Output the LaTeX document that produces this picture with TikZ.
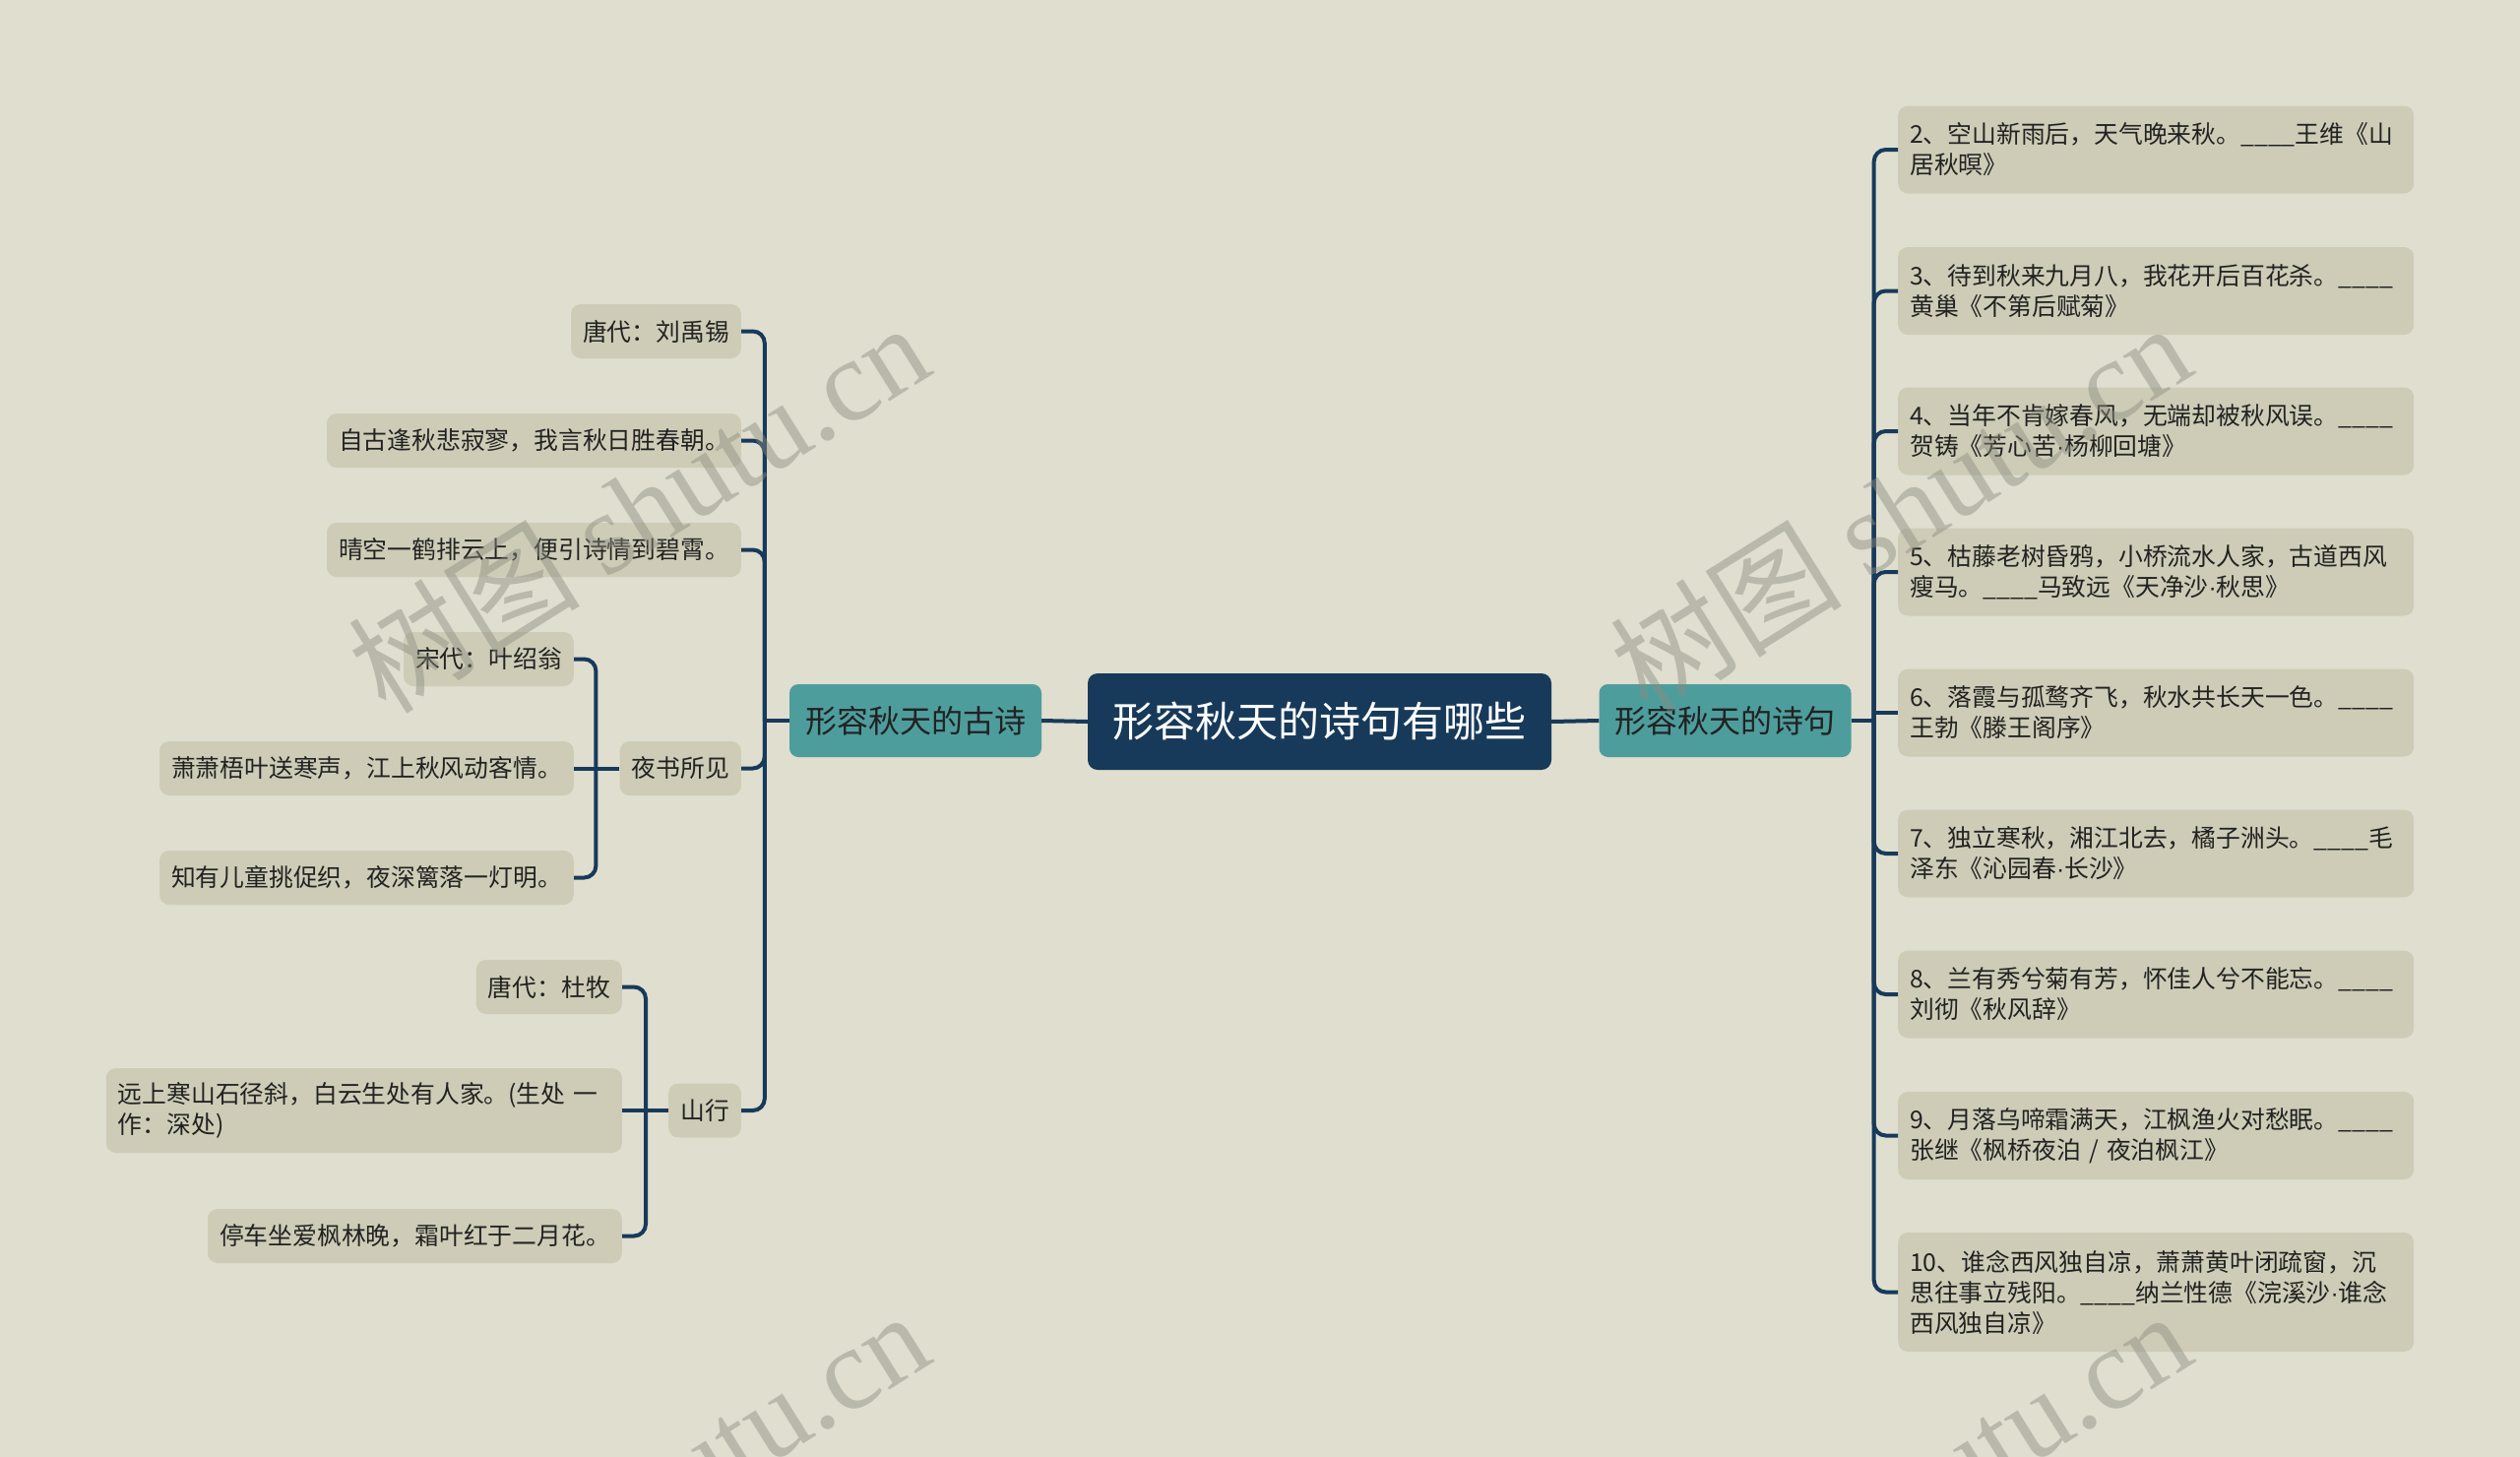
\documentclass[tikz,border=0pt]{standalone}
\usepackage{fontspec}
\setmainfont{Noto Sans CJK SC}
\newfontfamily\wmlatin{Liberation Serif}
\newfontfamily\latinsans{Liberation Sans}
\newcommand{\mdot}{{\latinsans ·}}

\definecolor{bg}{HTML}{DFDECF}
\definecolor{leaffill}{HTML}{CECCB6}
\definecolor{navy}{HTML}{173A5A}
\definecolor{tealbox}{HTML}{4E9D9D}
\definecolor{ink}{HTML}{222222}
\definecolor{wm}{RGB}{140,140,128}

\tikzset{
  leafbox/.style={fill=leaffill, rounded corners=10pt, text=ink,
    font=\fontsize{24.8}{31}\selectfont, inner xsep=12pt, inner ysep=0pt,
    minimum height=55pt},
  rleaf/.style={leafbox, anchor=west, text width=500pt, align=left, minimum height=89pt},
  lleaf/.style={leafbox, anchor=east},
  rootbox/.style={fill=navy, rounded corners=10pt, text=white,
    font=\fontsize{42}{50}\selectfont, minimum width=471pt, minimum height=98pt, inner sep=0pt},
  subbox/.style={fill=tealbox, rounded corners=9pt, text=ink,
    font=\fontsize{32}{38}\selectfont, minimum width=256pt, minimum height=74pt, inner sep=0pt},
  conn/.style={draw=navy, line width=4pt, rounded corners=12pt},
  wmark/.style={rotate=32, text=wm, text opacity=0.45, font=\fontsize{118}{118}\selectfont, inner sep=0pt},
}

\begin{document}
\begin{tikzpicture}[x=1pt,y=1pt]
\useasboundingbox (0,0) rectangle (2560,-1480);
\clip (0,0) rectangle (2560,-1480);
\fill[bg] (0,0) rectangle (2560,-1480);

% root and first level
\node[rootbox] (root) at (1340.5,-733) {形容秋天的诗句有哪些};
\node[subbox] (L) at (930,-732) {形容秋天的古诗};
\node[subbox] (R) at (1752.5,-732) {形容秋天的诗句};

% right leaves
\node[rleaf] (r2) at (1928,-152) {2、空山新雨后，天气晚来秋。\_\_\_\_王维《山\\居秋暝》};
\node[rleaf] (r3) at (1928,-295.5) {3、待到秋来九月八，我花开后百花杀。\_\_\_\_\\黄巢《不第后赋菊》};
\node[rleaf] (r4) at (1928,-438) {4、当年不肯嫁春风，无端却被秋风误。\_\_\_\_\\贺铸《芳心苦\mdot 杨柳回塘》};
\node[rleaf] (r5) at (1928,-581) {5、枯藤老树昏鸦，小桥流水人家，古道西风\\瘦马。\_\_\_\_马致远《天净沙\mdot 秋思》};
\node[rleaf] (r6) at (1928,-724) {6、落霞与孤鹜齐飞，秋水共长天一色。\_\_\_\_\\王勃《滕王阁序》};
\node[rleaf] (r7) at (1928,-867) {7、独立寒秋，湘江北去，橘子洲头。\_\_\_\_毛\\泽东《沁园春\mdot 长沙》};
\node[rleaf] (r8) at (1928,-1010) {8、兰有秀兮菊有芳，怀佳人兮不能忘。\_\_\_\_\\刘彻《秋风辞》};
\node[rleaf] (r9) at (1928,-1153.5) {9、月落乌啼霜满天，江枫渔火对愁眠。\_\_\_\_\\张继《枫桥夜泊 / 夜泊枫江》};
\node[rleaf, minimum height=121pt] (r10) at (1928,-1312.5) {10、谁念西风独自凉，萧萧黄叶闭疏窗，沉\\思往事立残阳。\_\_\_\_纳兰性德《浣溪沙\mdot 谁念\\西风独自凉》};

% left leaves
\node[lleaf] (a1) at (753,-336.5) {唐代：刘禹锡};
\node[lleaf] (a2) at (753,-447.5) {自古逢秋悲寂寥，我言秋日胜春朝。};
\node[lleaf] (a3) at (753,-558.5) {晴空一鹤排云上，便引诗情到碧霄。};
\node[lleaf] (a4) at (753,-780.5) {夜书所见};
\node[lleaf] (a5) at (753,-1128) {山行};

\node[lleaf] (b1) at (583,-669.5) {宋代：叶绍翁};
\node[lleaf] (b2) at (583,-780.5) {萧萧梧叶送寒声，江上秋风动客情。};
\node[lleaf] (b3) at (583,-891.5) {知有儿童挑促织，夜深篱落一灯明。};

\node[lleaf] (c1) at (632,-1002.5) {唐代：杜牧};
\node[lleaf, text width=500pt, align=left, minimum height=86pt] (c2) at (632,-1128) {远上寒山石径斜，白云生处有人家。(生处 一\\作：深处)};
\node[lleaf] (c3) at (632,-1255.5) {停车坐爱枫林晚，霜叶红于二月花。};

% connectors: center
\draw[conn] (root.west) -- (L.east);
\draw[conn] (root.east) -- (R.west);

% right trunk
\draw[conn] (R.east) -- ++(23,0) coordinate (rt);
\foreach \n in {r2,r3,r4,r5,r7,r8,r9,r10} {
  \draw[conn] (rt) |- (\n.west);
}
\draw[conn] (rt |- r6.west) -- (r6.west);

% left trunk
\draw[conn] (L.west) -- ++(-25,0) coordinate (lt);
\foreach \n in {a1,a2,a3,a4,a5} {
  \draw[conn] (lt) |- (\n.east);
}

% 夜书所见 branch
\draw[conn] (a4.west) -- ++(-24,0) coordinate (yt);
\draw[conn] (yt) |- (b1.east);
\draw[conn] (yt) |- (b3.east);
\draw[conn] (yt) -- (b2.east);

% 山行 branch
\draw[conn] (a5.west) -- ++(-23,0) coordinate (st);
\draw[conn] (st) |- (c1.east);
\draw[conn] (st) |- (c3.east);
\draw[conn] (st |- c2.east) -- (c2.east);

% watermarks
\node[wmark] (wm1) at (648,-515) {树图 {\wmlatin shutu.cn}};
\node[wmark] (wm2) at (1930,-515) {树图 {\wmlatin shutu.cn}};
\node[wmark] (wm3) at (648,-1519) {树图 {\wmlatin shutu.cn}};
\node[wmark] (wm4) at (1930,-1519) {树图 {\wmlatin shutu.cn}};
\end{tikzpicture}
\end{document}
